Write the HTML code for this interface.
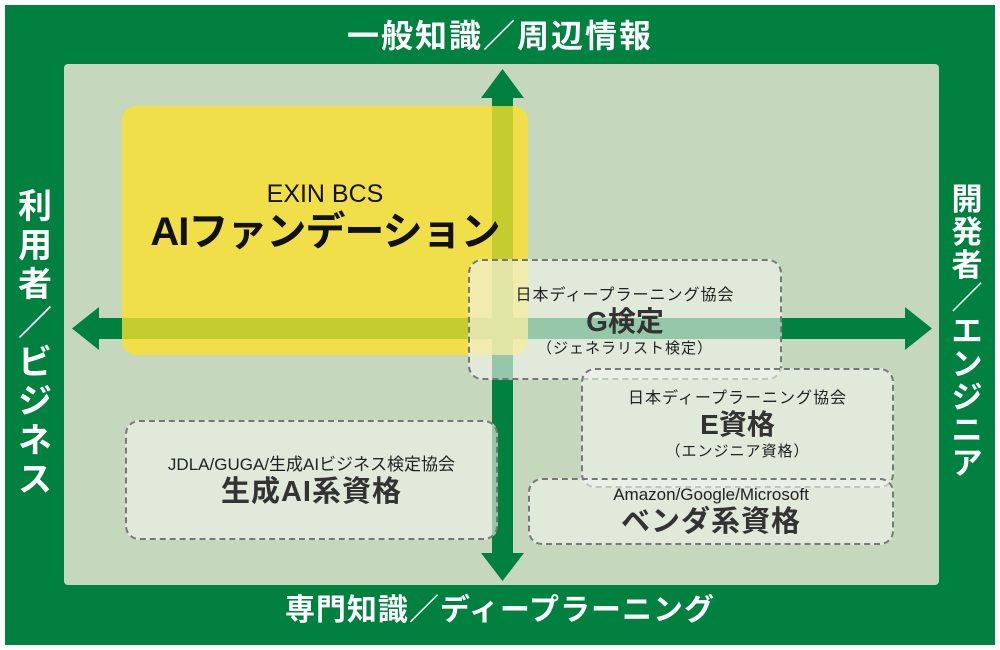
<!DOCTYPE html>
<html><head><meta charset="utf-8"><style>
body{margin:0;width:1000px;height:650px;background:#fff;position:relative;overflow:hidden;font-family:"Liberation Sans","Noto Sans CJK JP",sans-serif}
.a{position:absolute}
.outer{left:5px;top:5px;width:990px;height:640px;background:#00813f}
.panel{left:64px;top:64px;width:875px;height:521px;background:#c5d7bc;border-radius:4px}
.hd{color:#fff;font-weight:bold;text-align:center;width:1000px;left:0;line-height:40px}
.vt{color:#fff;font-weight:bold;display:flex;flex-direction:column;align-items:center;text-align:center}
.box{border:2.5px dashed #777;border-radius:14px;background:rgba(240,244,237,0.62);box-sizing:border-box;text-align:center;color:#333;font-weight:bold;white-space:nowrap}
.s{font-size:16px;font-weight:normal;color:#222;letter-spacing:1px}
.b{font-size:28px;line-height:32px}
</style></head><body>
<div class="a outer"></div>
<div class="a panel"></div>
<div class="a hd" style="top:16px;font-size:32px;letter-spacing:2px">一般知識／周辺情報</div>
<div class="a hd" style="top:591px;font-size:30px;letter-spacing:1px">専門知識／ディープラーニング</div>
<div class="a vt" style="left:15px;top:188px;width:40px;font-size:34px;line-height:39px"><span>利</span><span>用</span><span>者</span><span>／</span><span>ビ</span><span>ジ</span><span>ネ</span><span>ス</span></div>
<div class="a vt" style="left:947px;top:183px;width:40px;font-size:31px;line-height:33px"><span>開</span><span>発</span><span>者</span><span>／</span><span>エ</span><span>ン</span><span>ジ</span><span>ニ</span><span>ア</span></div>
<svg class="a" style="left:0;top:0" width="1000" height="650">
<rect x="492" y="97" width="21" height="460" fill="#00813f"/>
<polygon points="502.5,69 481,98 524,98" fill="#00813f"/>
<polygon points="502.5,581 481,553 524,553" fill="#00813f"/>
<rect x="98" y="318" width="810" height="21" fill="#00813f"/>
<polygon points="72,328.5 99,307 99,350" fill="#00813f"/>
<polygon points="932,328.5 905,307 905,350" fill="#00813f"/>
</svg>
<div class="a" style="left:122px;top:106px;width:406px;height:249px;border-radius:14px;background:rgba(252,226,40,0.78)"></div>
<div class="a" style="left:122px;top:180px;width:406px;text-align:center;font-size:25px;line-height:28px;color:#111">EXIN BCS</div>
<div class="a" style="left:122px;top:208px;width:406px;text-align:center;font-size:40px;line-height:48px;font-weight:bold;color:#111;letter-spacing:-1px">AIファンデーション</div>
<div class="a box" style="left:468px;top:259px;width:314px;height:121px"><div class="s" style="margin-top:25px;line-height:20px">日本ディープラーニング協会</div><div class="b">G検定</div><div class="s" style="line-height:22px;font-size:15px">（ジェネラリスト検定）</div></div>
<div class="a box" style="left:581px;top:368px;width:313px;height:120px"><div class="s" style="margin-top:19px;line-height:20px">日本ディープラーニング協会</div><div class="b">E資格</div><div class="s" style="line-height:22px;font-size:15px">（エンジニア資格）</div></div>
<div class="a box" style="left:528px;top:478px;width:366px;height:67px"><div class="s" style="margin-top:4px;line-height:22px;font-size:17px;letter-spacing:0">Amazon/Google/Microsoft</div><div class="b" style="font-size:29px;letter-spacing:1px">ベンダ系資格</div></div>
<div class="a box" style="left:125px;top:420px;width:373px;height:120px"><div class="s" style="margin-top:32px;line-height:22px;font-size:17px;letter-spacing:0">JDLA/GUGA/生成AIビジネス検定協会</div><div class="b" style="font-size:29px;letter-spacing:1px">生成AI系資格</div></div>
</body></html>
